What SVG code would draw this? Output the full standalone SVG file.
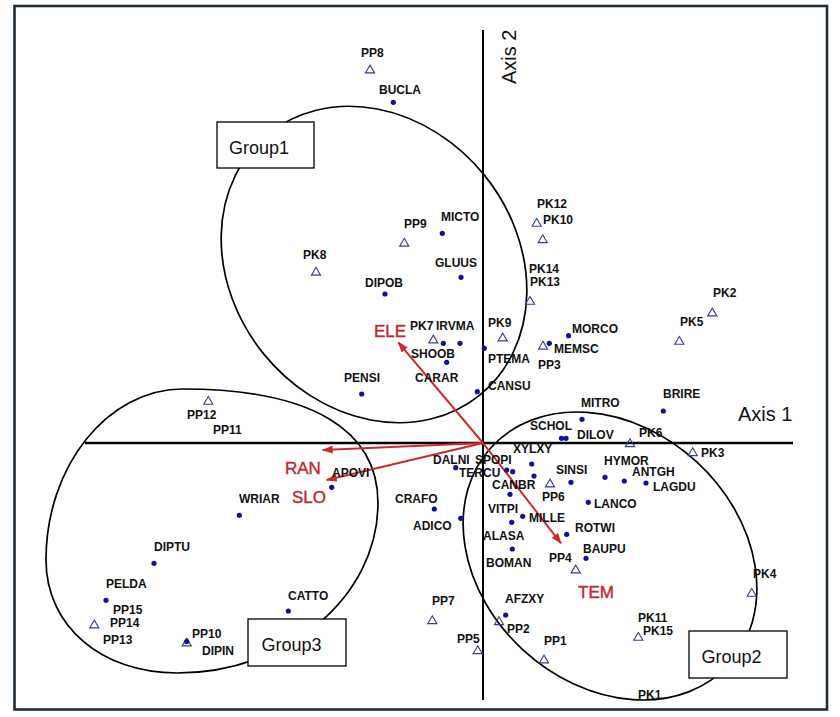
<svg xmlns="http://www.w3.org/2000/svg" xmlns:xlink="http://www.w3.org/1999/xlink" width="840" height="717" viewBox="0 0 840 717">
<style>
.lb{font-family:"Liberation Sans",Arial,sans-serif;font-weight:bold;font-size:12px;fill:#111}
.rd{font-family:"Liberation Sans",Arial,sans-serif;font-size:17px;fill:#c0282d;stroke:#c0282d;stroke-width:0.4}
.ax{font-family:"Liberation Sans",Arial,sans-serif;font-size:20px;fill:#111}
.gt{font-family:"Liberation Sans",Arial,sans-serif;font-size:18px;fill:#111}
.dot{fill:#10109c}
.tri{fill:none;stroke:#3c3c8c;stroke-width:1.1}
.grp{fill:none;stroke:#000;stroke-width:1.7}
.box{fill:#fff;stroke:#000;stroke-width:1.3}
.axl{stroke:#000;fill:none}
.arr{stroke:#d0282d;stroke-width:2;fill:none;marker-end:url(#ah)}
</style>
<defs>
<marker id="ah" markerWidth="11" markerHeight="8" refX="10" refY="4" orient="auto" markerUnits="userSpaceOnUse">
<path d="M0,0 L11,4 L0,8 Z" fill="#d0282d"/>
</marker>
<path id="t" class="tri" d="M0,-4.2 L4.6,3.6 L-4.6,3.6 Z"/>
<circle id="d" class="dot" r="2.6"/>
</defs>
<rect x="14.5" y="6" width="812.5" height="703.5" fill="#fff" stroke="#1e2b3c" stroke-width="2.6"/>

<g id="groups">
<ellipse id="g1-ellipse" class="grp" cx="374" cy="264.5" rx="168" ry="142" transform="rotate(51 374 264.5)"/>
<ellipse id="g2-ellipse" class="grp" cx="610" cy="556" rx="161" ry="128" transform="rotate(42.5 610 556)"/>
<path id="g3-ellipse" class="grp" d="M183,389 C309.75,389 378,428.9 378,503 C378,596.5 287.55,673 177,673 C101,673 46,625.5 46,560 C46,465.95 107.65,389 183,389 Z"/>
</g>

<g id="axes">
<line class="axl" x1="483" y1="30" x2="483" y2="700" stroke-width="2"/>
<line class="axl" x1="85" y1="443" x2="793" y2="443" stroke-width="2.6"/>
<text class="ax" x="738" y="421">Axis 1</text>
<text class="ax" transform="translate(516,84) rotate(-90)">Axis 2</text>
</g>

<g id="connectors">
<line class="arr" x1="483" y1="443" x2="398.3" y2="342.3"/>
<line class="arr" x1="483" y1="443" x2="322.7" y2="450"/>
<line class="arr" x1="483" y1="443" x2="326.7" y2="480"/>
<line class="arr" x1="483" y1="443" x2="561" y2="543.3"/>
</g>

<g id="vectors">
<text id="v-ELE" class="rd" x="374" y="337">ELE</text>
<text id="v-RAN" class="rd" x="285" y="474">RAN</text>
<text id="v-SLO" class="rd" x="292" y="503">SLO</text>
<text id="v-TEM" class="rd" x="578" y="597.5">TEM</text>
</g>

<g id="sites">
<g id="PP8"><use href="#t" x="370" y="69.3"/><text class="lb" x="361" y="57">PP8</text></g>
<g id="PP9"><use href="#t" x="404.3" y="242.5"/><text class="lb" x="404" y="228">PP9</text></g>
<g id="PK8"><use href="#t" x="316" y="271.5"/><text class="lb" x="303" y="259">PK8</text></g>
<g id="PK7"><use href="#t" x="433.3" y="339.3"/><text class="lb" x="410" y="330">PK7</text></g>
<g id="PK9"><use href="#t" x="502.7" y="337.3"/><text class="lb" x="488" y="327">PK9</text></g>
<g id="PK12"><use href="#t" x="536.7" y="222.7"/><text class="lb" x="537" y="208">PK12</text></g>
<g id="PK10"><use href="#t" x="542.7" y="239"/><text class="lb" x="543" y="224">PK10</text></g>
<g id="PK14"><text class="lb" x="529" y="273">PK14</text></g>
<g id="PK13"><use href="#t" x="530" y="300.7"/><text class="lb" x="530" y="286">PK13</text></g>
<g id="PP3"><use href="#t" x="543" y="345.5"/><text class="lb" x="538" y="369">PP3</text></g>
<g id="PK2"><use href="#t" x="712.3" y="312.3"/><text class="lb" x="713" y="297">PK2</text></g>
<g id="PK5"><use href="#t" x="679.3" y="340.7"/><text class="lb" x="680" y="326">PK5</text></g>
<g id="PK6"><use href="#t" x="630" y="443"/><text class="lb" x="639" y="437">PK6</text></g>
<g id="PK3"><use href="#t" x="692.7" y="452"/><text class="lb" x="701" y="457">PK3</text></g>
<g id="PP6"><use href="#t" x="550" y="483.3"/><text class="lb" x="542" y="501">PP6</text></g>
<g id="PP4"><use href="#t" x="575.7" y="569.3"/><text class="lb" x="549" y="562">PP4</text></g>
<g id="PK4"><use href="#t" x="751.7" y="592.7"/><text class="lb" x="753" y="578">PK4</text></g>
<g id="PP7"><use href="#t" x="432.3" y="620"/><text class="lb" x="432" y="605">PP7</text></g>
<g id="PP2"><use href="#t" x="499" y="621"/><text class="lb" x="507" y="633">PP2</text></g>
<g id="PP5"><use href="#t" x="477.7" y="650"/><text class="lb" x="457" y="643">PP5</text></g>
<g id="PP1"><use href="#t" x="544" y="659.3"/><text class="lb" x="544" y="645">PP1</text></g>
<g id="PK11"><text class="lb" x="638" y="622">PK11</text></g>
<g id="PK15"><use href="#t" x="638.3" y="636.7"/><text class="lb" x="643" y="635">PK15</text></g>
<g id="PK1"><text class="lb" x="638" y="699">PK1</text></g>
<g id="PP12"><use href="#t" x="208.3" y="400.7"/><text class="lb" x="187" y="419">PP12</text></g>
<g id="PP11"><text class="lb" x="213" y="434">PP11</text></g>
<g id="PP15"><text class="lb" x="113" y="614">PP15</text></g>
<g id="PP14"><use href="#t" x="94.3" y="624.3"/><text class="lb" x="110" y="627">PP14</text></g>
<g id="PP13"><text class="lb" x="103" y="644">PP13</text></g>
<g id="PP10"><use href="#t" x="186.7" y="642.3"/><text class="lb" x="192" y="638">PP10</text></g>
</g>

<g id="species">
<g id="BUCLA"><use href="#d" x="393.3" y="102.3"/><text class="lb" x="379" y="94">BUCLA</text></g>
<g id="MICTO"><use href="#d" x="442.3" y="233.3"/><text class="lb" x="441" y="221">MICTO</text></g>
<g id="GLUUS"><use href="#d" x="461" y="277.3"/><text class="lb" x="435" y="267">GLUUS</text></g>
<g id="DIPOB"><use href="#d" x="385" y="294"/><text class="lb" x="365" y="287">DIPOB</text></g>
<g id="IRVMA"><use href="#d" x="443.3" y="343.3"/><use href="#d" x="460" y="343.3"/><text class="lb" x="436" y="330">IRVMA</text></g>
<g id="SHOOB"><use href="#d" x="446.7" y="362.3"/><text class="lb" x="411" y="358">SHOOB</text></g>
<g id="CARAR"><text class="lb" x="415" y="382">CARAR</text></g>
<g id="PTEMA"><use href="#d" x="484.3" y="348.3"/><text class="lb" x="488" y="363">PTEMA</text></g>
<g id="CANSU"><use href="#d" x="477.3" y="391.7"/><text class="lb" x="488" y="390">CANSU</text></g>
<g id="PENSI"><use href="#d" x="361.7" y="394"/><text class="lb" x="344" y="382">PENSI</text></g>
<g id="MEMSC"><use href="#d" x="549.3" y="343.3"/><text class="lb" x="554" y="353">MEMSC</text></g>
<g id="MORCO"><use href="#d" x="568.5" y="335.7"/><text class="lb" x="572" y="333">MORCO</text></g>
<g id="BRIRE"><use href="#d" x="663.3" y="411"/><text class="lb" x="663" y="398">BRIRE</text></g>
<g id="MITRO"><use href="#d" x="582" y="419.3"/><text class="lb" x="581" y="407">MITRO</text></g>
<g id="SCHOL"><use href="#d" x="561.5" y="438.3"/><use href="#d" x="566" y="438.3"/><text class="lb" x="530" y="430">SCHOL</text></g>
<g id="DILOV"><text class="lb" x="577" y="439">DILOV</text></g>
<g id="XYLXY"><use href="#d" x="531.7" y="464"/><use href="#d" x="534" y="476"/><text class="lb" x="513" y="453">XYLXY</text></g>
<g id="DALNI"><use href="#d" x="455.7" y="467.7"/><text class="lb" x="433" y="464">DALNI</text></g>
<g id="SPOPI"><use href="#d" x="512.7" y="471.7"/><text class="lb" x="475" y="464">SPOPI</text></g>
<g id="TERCU"><use href="#d" x="506.7" y="470"/><text class="lb" x="459" y="477">TERCU</text></g>
<g id="SINSI"><use href="#d" x="571" y="482.3"/><text class="lb" x="556" y="474">SINSI</text></g>
<g id="HYMOR"><use href="#d" x="605" y="477.3"/><text class="lb" x="604" y="465">HYMOR</text></g>
<g id="ANTGH"><use href="#d" x="624.3" y="481"/><text class="lb" x="632" y="476">ANTGH</text></g>
<g id="LAGDU"><use href="#d" x="646" y="483"/><text class="lb" x="653" y="491">LAGDU</text></g>
<g id="CANBR"><use href="#d" x="510" y="494.3"/><text class="lb" x="492" y="489">CANBR</text></g>
<g id="CRAFO"><use href="#d" x="434.3" y="509"/><text class="lb" x="395" y="503">CRAFO</text></g>
<g id="LANCO"><use href="#d" x="588.3" y="502.3"/><text class="lb" x="594" y="508">LANCO</text></g>
<g id="ADICO"><use href="#d" x="460.7" y="518.3"/><text class="lb" x="413" y="530">ADICO</text></g>
<g id="VITPI"><use href="#d" x="511.7" y="522.3"/><text class="lb" x="488" y="513">VITPI</text></g>
<g id="MILLE"><use href="#d" x="522.7" y="516.3"/><text class="lb" x="529" y="522">MILLE</text></g>
<g id="ROTWI"><use href="#d" x="566.7" y="534.3"/><text class="lb" x="575" y="532">ROTWI</text></g>
<g id="ALASA"><use href="#d" x="512.3" y="549"/><text class="lb" x="483" y="540">ALASA</text></g>
<g id="BAUPU"><use href="#d" x="586" y="558.3"/><text class="lb" x="583" y="553">BAUPU</text></g>
<g id="BOMAN"><text class="lb" x="486" y="567">BOMAN</text></g>
<g id="AFZXY"><use href="#d" x="505.7" y="615"/><text class="lb" x="505" y="603">AFZXY</text></g>
<g id="APOVI"><use href="#d" x="331.7" y="487.3"/><text class="lb" x="332" y="477">APOVI</text></g>
<g id="WRIAR"><use href="#d" x="239.3" y="515.3"/><text class="lb" x="239" y="503">WRIAR</text></g>
<g id="DIPTU"><use href="#d" x="154" y="563.3"/><text class="lb" x="154" y="551">DIPTU</text></g>
<g id="PELDA"><use href="#d" x="106" y="600.3"/><text class="lb" x="106" y="588">PELDA</text></g>
<g id="CATTO"><use href="#d" x="288.3" y="611"/><text class="lb" x="288" y="600">CATTO</text></g>
<g id="DIPIN"><use href="#d" x="186.7" y="641.5"/><text class="lb" x="202" y="655">DIPIN</text></g>
</g>

<g id="group-boxes">
<g id="Group1"><rect class="box" x="217" y="122" width="97" height="46"/><text class="gt" x="229" y="153.5">Group1</text></g>
<g id="Group3"><rect class="box" x="248" y="619" width="98" height="47"/><text class="gt" x="261.5" y="650.5">Group3</text></g>
<g id="Group2"><rect class="box" x="689" y="631" width="98" height="47"/><text class="gt" x="701.5" y="662.5">Group2</text></g>
</g>
</svg>
